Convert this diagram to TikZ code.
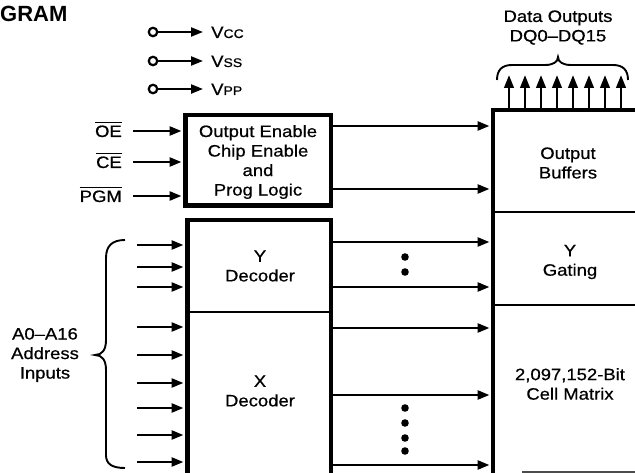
\documentclass[tikz,border=0pt]{standalone}
\usepackage{fontspec}
\setmainfont{Liberation Sans}
\newfontfamily\heavy[FakeBold=0.6]{Liberation Sans}
\usetikzlibrary{arrows.meta}
\newcommand\hs[1]{\scalebox{1.12}[1]{#1}}
\newcommand\ovl[1]{\setbox0\hbox{#1}\rlap{\rule[\dimexpr\ht0+2pt\relax]{\wd0}{1.4pt}}\box0}
\begin{document}
\begin{tikzpicture}[x=1pt,y=-1pt,
  txt/.style={font=\heavy\fontsize{16.5}{19.5}\selectfont, align=center, inner sep=0pt},
  conn/.style={line width=2.6pt, -{Triangle[length=12pt,width=9pt]}, shorten >=1.5pt},
  outarr/.style={line width=2.6pt, -{Triangle[length=13pt,width=9.5pt]}},
  thickbox/.style={draw, line width=4.5pt, inner sep=0pt},
  sepline/.style={line width=2.2pt},
  pin/.style={circle, draw, line width=2.2pt, minimum size=8.5pt, inner sep=0pt},
  bracepath/.style={line width=1.9pt},
  dotmark/.style={fill=black}]
\useasboundingbox (0,0) rectangle (635,473);
\clip (0,0) rectangle (635,473);

% title fragment
\node[anchor=base west, inner sep=0pt, font=\bfseries\fontsize{22}{22}\selectfont] (title) at (0,21.5) {GRAM};

% power pins
\node[pin] (pcc) at (153,32) {};
\node[pin] (pss) at (153,61) {};
\node[pin] (ppp) at (153,89) {};
\node[anchor=base west, inner sep=0pt, font=\heavy\fontsize{16.5}{18}\selectfont] (vcc) at (211,38) {\hs{V{\fontsize{12.5}{13}\selectfont CC}}};
\node[anchor=base west, inner sep=0pt, font=\heavy\fontsize{16.5}{18}\selectfont] (vss) at (211,67) {\hs{V{\fontsize{12.5}{13}\selectfont SS}}};
\node[anchor=base west, inner sep=0pt, font=\heavy\fontsize{16.5}{18}\selectfont] (vpp) at (211,95) {\hs{V{\fontsize{12.5}{13}\selectfont PP}}};
\draw[conn, line width=2.2pt, shorten >=8pt] (pcc) -- (vcc.west |- pcc);
\draw[conn, line width=2.2pt, shorten >=8pt] (pss) -- (vss.west |- pss);
\draw[conn, line width=2.2pt, shorten >=8pt] (ppp) -- (vpp.west |- ppp);

% boxes
\node[thickbox, minimum width=145.5pt, minimum height=90.5pt] (logic) at (258,160.5) {};
\node[thickbox, minimum width=143.5pt, minimum height=300pt] (dec) at (259,370) {};
\node[thickbox, line width=4pt, minimum width=207pt, minimum height=410pt] (mem) at (596.5,315) {};

% separators
\draw[sepline] (dec.west |- 0,312) -- (dec.east |- 0,312);
\draw[sepline] (mem.west |- 0,212) -- (mem.east |- 0,212);
\draw[sepline] (mem.west |- 0,305) -- (mem.east |- 0,305);
\draw[line width=1.5pt, black!70] (522,472) -- (mem.east |- 0,472);

% box texts
\node[txt] (logict) at (258,162) {\hs{Output Enable}\\\hs{Chip Enable}\\\hs{and}\\\hs{Prog Logic}};
\node[txt] (ydec) at (260,266) {\hs{Y}\\\hs{Decoder}};
\node[txt] (xdec) at (260,391) {\hs{X}\\\hs{Decoder}};
\node[txt] (obuf) at (568,163) {\hs{Output}\\\hs{Buffers}};
\node[txt] (ygat) at (570,262) {\hs{Y}\\\hs{Gating}};
\node[txt] (cell) at (570,384) {\hs{2,097,152-Bit}\\\hs{Cell Matrix}};

% control inputs
\node[txt, anchor=base east] (oe) at (122,137) {\ovl{\hs{OE}}};
\node[txt, anchor=base east] (ce) at (122,168) {\ovl{\hs{CE}}};
\node[txt, anchor=base east] (pgm) at (122,202) {\ovl{\hs{PGM}}};
\coordinate (oein) at (133,131);
\coordinate (cein) at (133,162);
\coordinate (pgmin) at (133,196);
\draw[conn] (oein) -- (logic.west |- oein);
\draw[conn] (cein) -- (logic.west |- cein);
\draw[conn] (pgmin) -- (logic.west |- pgmin);

% logic to buffers
\draw[conn] (logic.east |- 0,126) -- (mem.west |- 0,126);
\draw[conn] (logic.east |- 0,189) -- (mem.west |- 0,189);

% address inputs
\node[txt] (addr) at (45,355) {\hs{A0–A16}\\\hs{Address}\\\hs{Inputs}};
\foreach \y in {245,267,287,327,355,383,408,435,462}
  \draw[conn] (137,\y) -- (dec.west |- 0,\y);
\draw[bracepath] (125,240) .. controls (112,240) and (106,246) .. (106,258) -- (106,340)
  .. controls (106,350) and (102,355) .. (95,355)
  .. controls (102,355) and (106,360) .. (106,370) -- (106,455)
  .. controls (106,464) and (112,468) .. (125,468);

% decoder to matrix
\foreach \y in {242,287,328,395,465}
  \draw[conn] (dec.east |- 0,\y) -- (mem.west |- 0,\y);
\foreach \y in {257,272,408,423,438,451}
  \fill[dotmark] (405,\y) circle[radius=3.8pt];

% data outputs
\foreach \i in {0,...,7}
  \draw[outarr] (mem.north -| {509+16*\i},0) -- ({509+16*\i},75);
\draw[bracepath] (497,80) .. controls (497,70) and (502,65) .. (512,65) -- (545,65)
  .. controls (553,65) and (558,62) .. (558,57)
  .. controls (558,62) and (563,65) .. (571,65) -- (613,65)
  .. controls (623,65) and (628,70) .. (628,80);
\node[txt] (dout) at (558,27.5) {\hs{Data Outputs}\\\hs{DQ0–DQ15}};
\end{tikzpicture}
\end{document}
